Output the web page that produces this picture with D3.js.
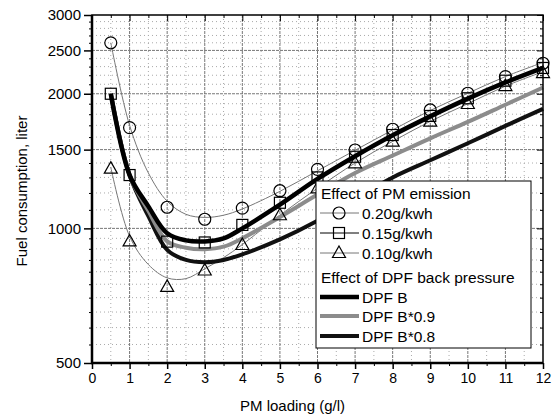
<!DOCTYPE html>
<html>
<head>
<meta charset="utf-8">
<script src="https://cdn.jsdelivr.net/npm/d3@7"></script>
<style>
  body { margin: 0; background: #fff; }
  svg { font-family: "Liberation Sans", Arial, sans-serif; }
</style>
</head>
<body>
<svg id="chart" width="560" height="420"></svg>
<script>
// measured points (PM emission cases)
var markX = [0.5, 1, 2, 3, 4, 5, 6, 7, 8, 9, 10, 11, 12]
var pm020 = [2600, 1680, 1115, 1048, 1110, 1214, 1355, 1497, 1666, 1840, 2005, 2184, 2340]
var pm015 = [2000, 1316, 934, 930, 1018, 1141, 1300, 1446, 1617, 1784, 1954, 2139, 2284]
var pm010 = [1360, 935, 740, 805, 918, 1070, 1229, 1398, 1563, 1732, 1897, 2081, 2225]

// curves
var curveX = [0.5, 1, 1.5, 2, 2.5, 3, 3.5, 4, 5, 6, 7, 8, 9, 10, 11, 12]
var fit020 = [2600, 1700, 1330, 1150, 1075, 1058, 1070, 1105, 1210, 1345, 1495, 1660, 1835, 2005, 2185, 2350]
var fit010 = [1370, 960, 830, 775, 772, 812, 860, 920, 1070, 1230, 1400, 1565, 1735, 1900, 2080, 2240]
var dpfB   = [2000, 1316, 1120, 975, 940, 935, 950, 1000, 1130, 1290, 1450, 1615, 1780, 1950, 2120, 2285]
var dpfB09 = [2000, 1316, 1095, 935, 905, 898, 910, 950, 1060, 1190, 1330, 1455, 1590, 1730, 1890, 2065]
var dpfB08 = [2000, 1316, 1065, 895, 850, 840, 850, 875, 945, 1040, 1165, 1300, 1420, 1550, 1695, 1850]

var xTicks = [0, 1, 2, 3, 4, 5, 6, 7, 8, 9, 10, 11, 12]
var yTicks = [500, 1000, 1500, 2000, 2500, 3000]

var svg = d3.select("#chart"),
    margin = {top: 15, right: 17, bottom: 57, left: 92}
var width = 560 - margin.left - margin.right,
    height = 420 - margin.top - margin.bottom

var g = svg.append("g").attr("transform", translate(margin.left, margin.top))

var x = d3.scaleLinear().domain([0, 12]).range([0, width])
var y = d3.scaleLog().domain([500, 3000]).range([height, 0])

// minor positions
var xMinor = d3.range(0.5, 12, 1)
var yMinor = d3.range(550, 1000, 50).concat(d3.range(1100, 3000, 100)).filter(v => yTicks.indexOf(v) < 0)

// dotted minor grid
g.append("g").selectAll("line").data(xMinor).enter().append("line")
    .attr("x1", d => x(d)).attr("x2", d => x(d)).attr("y1", 0).attr("y2", height)
    .attr("stroke", "#aaa").attr("stroke-dasharray", "1,3")
g.append("g").selectAll("line").data(yMinor).enter().append("line")
    .attr("x1", 0).attr("x2", width).attr("y1", d => y(d)).attr("y2", d => y(d))
    .attr("stroke", "#aaa").attr("stroke-dasharray", "1,3")

// major grid
g.append("g").selectAll("line").data(xTicks.slice(1, -1)).enter().append("line")
    .attr("x1", d => x(d)).attr("x2", d => x(d)).attr("y1", 0).attr("y2", height)
    .attr("stroke", "#777").attr("stroke-dasharray", "3,1")
g.append("g").selectAll("line").data(yTicks.slice(1, -1)).enter().append("line")
    .attr("x1", 0).attr("x2", width).attr("y1", d => y(d)).attr("y2", d => y(d))
    .attr("stroke", "#777").attr("stroke-dasharray", "3,1")

// curves
var line = d3.line()
    .x(d => x(d[0])).y(d => y(d[1]))
    .curve(d3.curveCatmullRom.alpha(0.5))

function pairs(xs, ys) { return xs.map((v, i) => [v, ys[i]]) }

g.append("path").attr("d", line(pairs(curveX, fit020)))
    .attr("fill", "none").attr("stroke", "#777").attr("stroke-width", 1)
g.append("path").attr("d", line(pairs(curveX, fit010)))
    .attr("fill", "none").attr("stroke", "#777").attr("stroke-width", 1)
g.append("path").attr("d", line(pairs(curveX, dpfB08)))
    .attr("fill", "none").attr("stroke", "#111").attr("stroke-width", 4)
g.append("path").attr("d", line(pairs(curveX, dpfB09)))
    .attr("fill", "none").attr("stroke", "#8c8c8c").attr("stroke-width", 4)
g.append("path").attr("d", line(pairs(curveX, dpfB)))
    .attr("fill", "none").attr("stroke", "#000").attr("stroke-width", 4.5)

// markers
function drawMarker(sel, kind) {
    if (kind == "circle") {
        sel.append("circle").attr("r", 6)
    } else if (kind == "square") {
        sel.append("rect").attr("x", -5.5).attr("y", -5.5).attr("width", 11).attr("height", 11)
    } else {
        sel.append("path").attr("d", "M0,-7L6.5,4.5L-6.5,4.5Z")
    }
    sel.selectAll("*").attr("fill", "none").attr("stroke", "#000").attr("stroke-width", 1.2)
}

[[pm020, "circle"], [pm015, "square"], [pm010, "triangle"]].forEach(s => {
    pairs(markX, s[0]).forEach(p => {
        var m = g.append("g").attr("transform", translate(x(p[0]), y(p[1])))
        drawMarker(m, s[1])
    })
})

// axes: frame
g.append("rect").attr("width", width).attr("height", height)
    .attr("fill", "none").attr("stroke", "#000").attr("stroke-width", 1.5)
g.append("line").attr("x1", 0).attr("x2", 0).attr("y1", 0).attr("y2", height + 1)
    .attr("stroke", "#000").attr("stroke-width", 2.5)
g.append("line").attr("x1", -1).attr("x2", width).attr("y1", height).attr("y2", height)
    .attr("stroke", "#000").attr("stroke-width", 2.5)

// bottom axis
var xAxis = g.append("g").attr("transform", translate(0, height))
    .call(d3.axisBottom(x).tickValues(xTicks).tickSize(6).tickPadding(4).tickFormat(d3.format("d")))
xAxis.select(".domain").remove()
xAxis.selectAll("text").attr("font-size", 14).attr("fill", "#000").attr("font-family", "Liberation Sans, Arial")
xAxis.selectAll("line").attr("stroke-width", 1.5)
g.append("g").attr("transform", translate(0, height))
    .call(d3.axisBottom(x).tickValues(xMinor).tickSize(3).tickFormat(""))
    .select(".domain").remove()

// top axis (inward)
g.append("g").call(d3.axisBottom(x).tickValues(xTicks).tickSize(6).tickFormat(""))
    .select(".domain").remove()
g.append("g").call(d3.axisBottom(x).tickValues(xMinor).tickSize(3).tickFormat(""))
    .select(".domain").remove()

// left axis
var yAxis = g.append("g")
    .call(d3.axisLeft(y).tickValues(yTicks).tickSize(8).tickPadding(3).tickFormat(d3.format("d")))
yAxis.select(".domain").remove()
yAxis.selectAll("text").attr("font-size", 15).attr("fill", "#000").attr("font-family", "Liberation Sans, Arial")
yAxis.selectAll("line").attr("stroke-width", 1.5)
g.append("g").call(d3.axisLeft(y).tickValues(yMinor).tickSize(3).tickFormat(""))
    .select(".domain").remove()

// right axis (inward)
g.append("g").attr("transform", translate(width, 0))
    .call(d3.axisLeft(y).tickValues(yTicks).tickSize(6).tickFormat(""))
    .select(".domain").remove()
g.append("g").attr("transform", translate(width, 0))
    .call(d3.axisLeft(y).tickValues(yMinor).tickSize(3).tickFormat(""))
    .select(".domain").remove()

// axis titles
svg.append("text").attr("x", margin.left + width / 2 - 25).attr("y", 411)
    .attr("text-anchor", "middle").attr("font-size", 15).text("PM loading (g/l)")
svg.append("text").attr("transform", "translate(27,191) rotate(-90)")
    .attr("text-anchor", "middle").attr("font-size", 15).text("Fuel consumption, liter")

// legend
var lg = svg.append("g").attr("transform", translate(316, 181))
lg.append("rect").attr("width", 215).attr("height", 167)
    .attr("fill", "#fff").attr("stroke", "#000").attr("stroke-width", 1)

var legendRows = [
    {label: "Effect of PM emission", dy: 12},
    {label: "0.20g/kwh", dy: 32, kind: "circle", color: "#777", w: 1},
    {label: "0.15g/kwh", dy: 52, kind: "square", color: "#000", w: 1},
    {label: "0.10g/kwh", dy: 72, kind: "triangle", color: "#777", w: 1},
    {label: "Effect of DPF back pressure", dy: 96},
    {label: "DPF B", dy: 116, color: "#000", w: 4.5},
    {label: "DPF B*0.9", dy: 135, color: "#8c8c8c", w: 4},
    {label: "DPF B*0.8", dy: 155, color: "#111", w: 4}
]
legendRows.forEach(r => {
    if (r.color) {
        lg.append("line").attr("x1", 4).attr("x2", 43).attr("y1", r.dy).attr("y2", r.dy)
            .attr("stroke", r.color).attr("stroke-width", r.w)
        if (r.kind) {
            var m = lg.append("g").attr("transform", translate(23, r.dy))
            drawMarker(m, r.kind)
        }
        lg.append("text").attr("x", 46).attr("y", r.dy + 5.5).attr("font-size", 15.5).text(r.label)
    } else {
        lg.append("text").attr("x", 5).attr("y", r.dy + 5.5).attr("font-size", 15.5).text(r.label)
    }
})

function translate(x, y) {
    return "translate(" + x + "," + y + ")"
}
</script>
</body>
</html>
